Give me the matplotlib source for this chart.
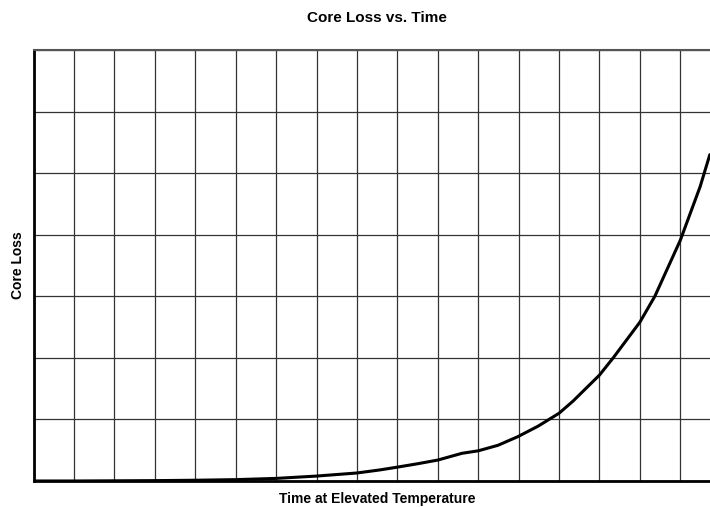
from matplotlib import pyplot as plt

# grid units: x in time divisions, y in core-loss divisions
time_div = [0, 1, 2, 3, 4, 5, 6, 7, 8, 8.57, 9, 9.5, 10, 10.6, 11, 11.49, 11.98,
            12.48, 13, 13.35, 14, 14.34, 15, 15.37, 16, 16.49, 16.73]
core_loss = [0.0, 0.0, 0.003, 0.006, 0.012, 0.022, 0.042, 0.08, 0.13, 0.18, 0.225, 0.28,
             0.34, 0.45, 0.49, 0.58, 0.72, 0.89, 1.1, 1.3, 1.72, 2.0, 2.58, 3.0,
             3.91, 4.78, 5.3]

x_divs = 17
y_divs = 7

plt.rcParams['font.family'] = ['Liberation Sans', 'DejaVu Sans']

fig = plt.figure(figsize=(7.1, 5.07), dpi=100)
ax = fig.add_axes([0.0473, 0.0513, 0.9678, 0.850])

ax.plot(time_div, core_loss, color='black', linewidth=2.2,
        solid_capstyle='round', solid_joinstyle='round', zorder=3)

ax.set_xlim(0, x_divs)
ax.set_ylim(0, y_divs)
ax.set_xticks(range(x_divs + 1))
ax.set_yticks(range(y_divs + 1))
ax.tick_params(length=0, labelbottom=False, labelleft=False)
ax.grid(True, color='#333333', linewidth=0.9)

ax.spines['left'].set_linewidth(2.0)
ax.spines['bottom'].set_linewidth(2.0)
ax.spines['top'].set_linewidth(1.5)
ax.spines['top'].set_color('#555555')
ax.spines['right'].set_visible(False)

ax.set_title('Core Loss vs. Time', fontsize=11, fontweight='bold', pad=20)
ax.set_xlabel('Time at Elevated Temperature', fontsize=10, fontweight='bold', labelpad=8)
ax.set_ylabel('Core Loss', fontsize=10, fontweight='bold', labelpad=6)

fig.savefig('out.png', dpi=100)
